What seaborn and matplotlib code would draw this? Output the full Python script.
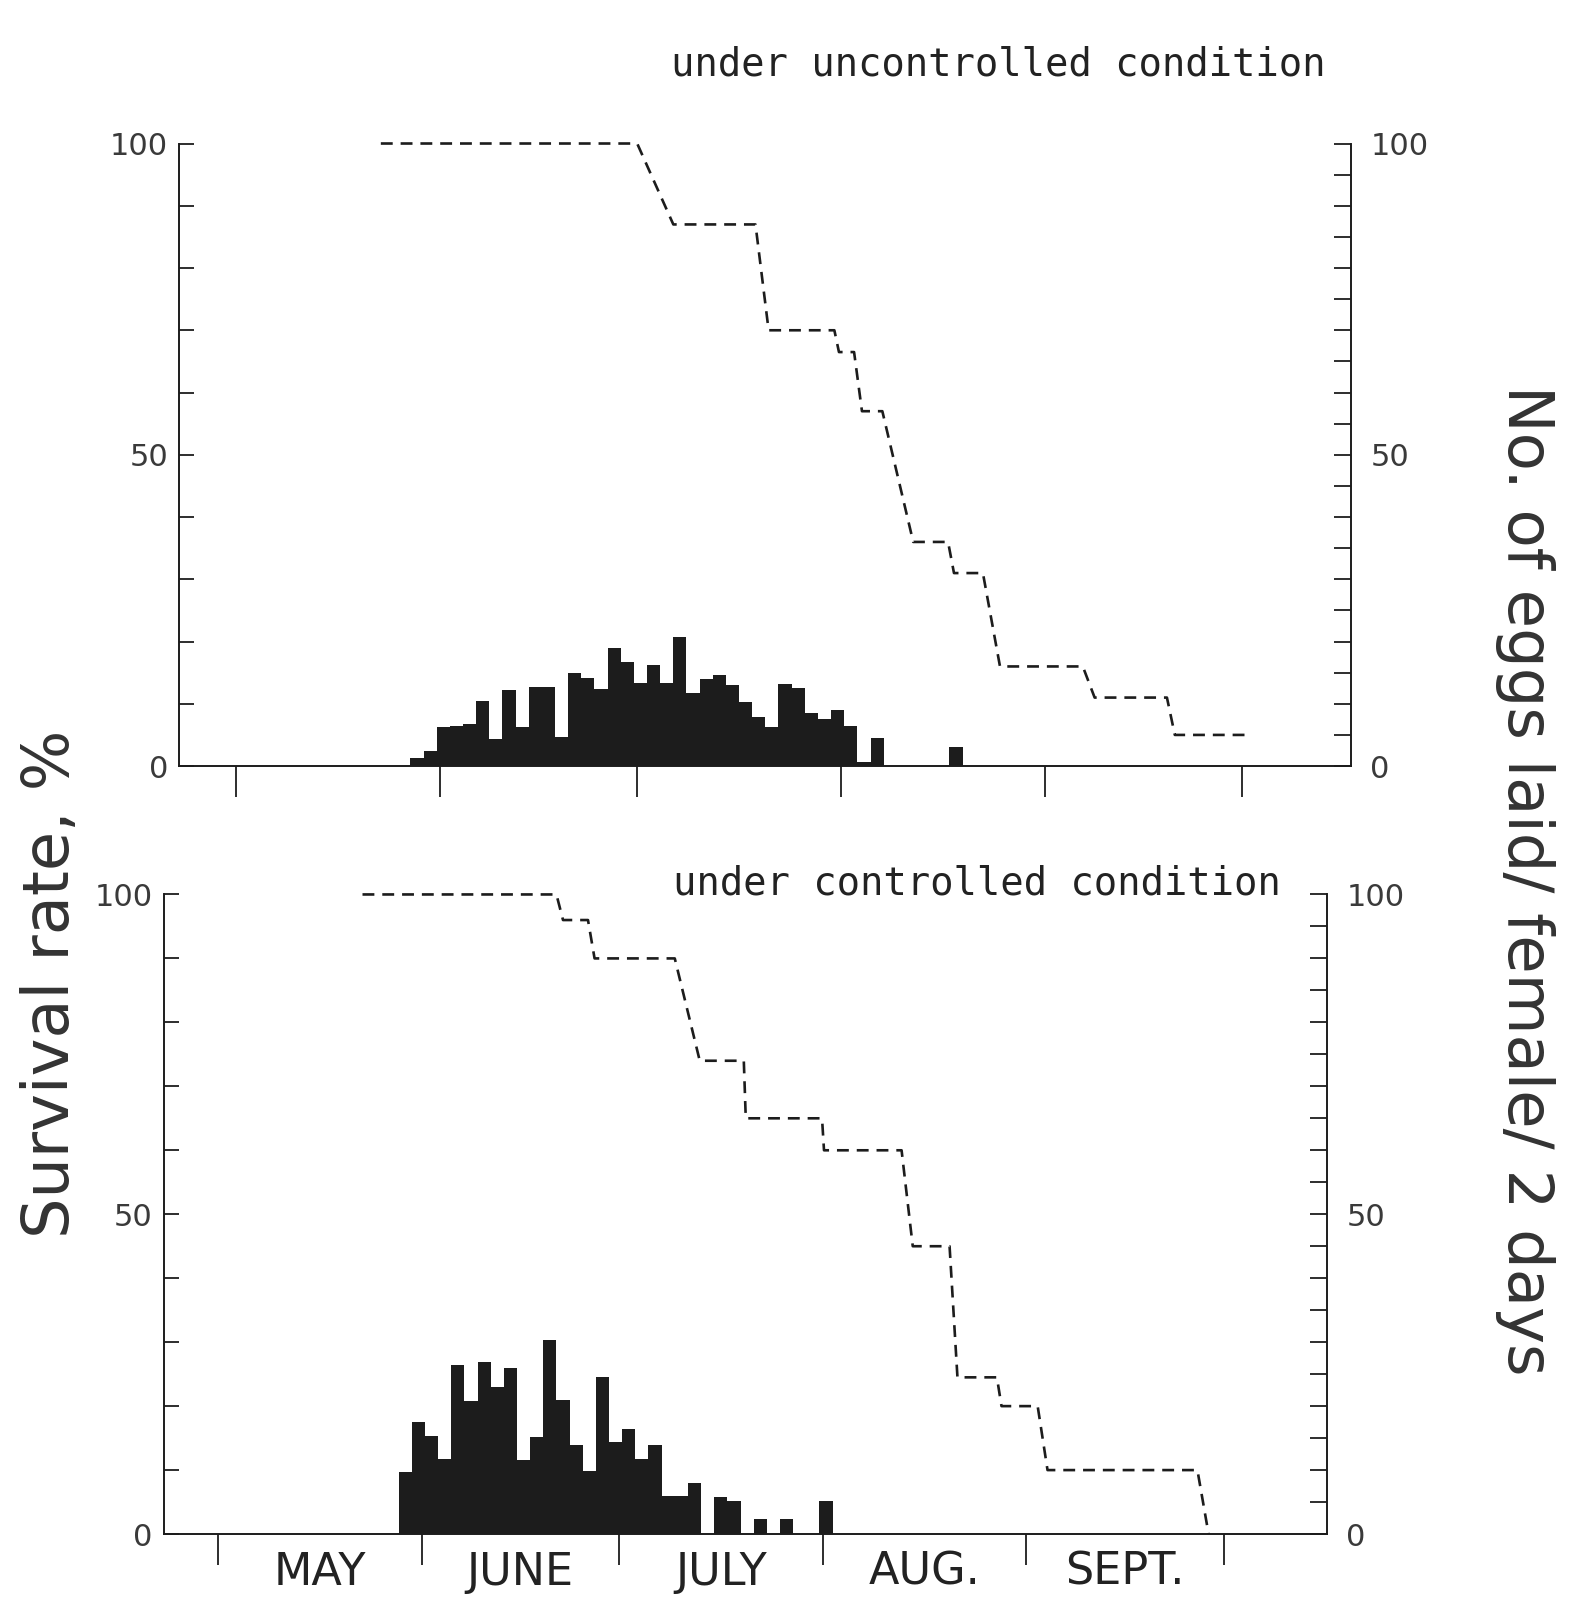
import numpy as np
import pandas as pd
import matplotlib
matplotlib.use("Agg")
import matplotlib.pyplot as plt
import seaborn as sns
from matplotlib.ticker import FixedLocator, MultipleLocator

sns.set_theme(style="ticks")
plt.rcParams['font.family'] = ['DejaVu Sans']

INK = "#1c1c1c"

# days counted from 1 May
month_starts = [0, 31, 61, 92, 123, 153]
month_mids = [15.5, 46, 76.5, 107.5, 138]
month_names = ["MAY", "JUNE", "JULY", "AUG.", "SEPT."]

# --- upper panel: uncontrolled condition ---
unc_surv_day = [22, 61, 66.5, 79, 81, 91, 91.7, 94, 95.2, 98.3, 103, 108.3,
                109.2, 113.6, 116.2, 128.8, 130.6, 141.6, 142.8, 154.2]
unc_surv_pct = [100, 100, 87, 87, 70, 70, 66.5, 66.5, 57, 57, 36, 36,
                31, 31, 16, 16, 11, 11, 5, 5]
# first day of each 2-day period with eggs
unc_egg_start = [26.5, 28.5, 30.5, 32.5, 34.5, 36.5, 38.5, 40.5, 42.5, 44.5,
                 46.5, 48.5, 50.5, 52.5, 54.5, 56.5, 58.5, 60.5, 62.5, 64.5,
                 66.5, 68.5, 70.5, 72.5, 74.5, 76.5, 78.5, 80.5, 82.5, 84.5,
                 86.5, 88.5, 90.5, 92.5, 94.5, 96.5, 108.5]
unc_eggs = [1.3, 2.4, 6.2, 6.4, 6.8, 10.5, 4.3, 12.2, 6.2, 12.7,
            12.7, 4.6, 14.9, 14.2, 12.4, 19.0, 16.7, 13.4, 16.2, 13.4,
            20.7, 11.8, 14.0, 14.6, 13.0, 10.3, 7.9, 6.3, 13.2, 12.5,
            8.5, 7.5, 9.0, 6.4, 0.7, 4.5, 3.0]

# --- lower panel: controlled condition ---
con_surv_day = [22, 51.5, 52.5, 56.3, 57.3, 69.5, 73.3, 80, 80.3, 91.9, 92.2,
                104, 105.7, 111.3, 112.5, 118.5, 119.2, 124.7, 126.2, 149, 150.7]
con_surv_pct = [100, 100, 96, 96, 90, 90, 74, 74, 65, 65, 60,
                60, 45, 45, 24.5, 24.5, 20, 20, 10, 10, 0]
con_egg_start = [27.5, 29.5, 31.5, 33.5, 35.5, 37.5, 39.5, 41.5, 43.5, 45.5,
                 47.5, 49.5, 51.5, 53.5, 55.5, 57.5, 59.5, 61.5, 63.5, 65.5,
                 67.5, 69.5, 71.5, 75.5, 77.5, 81.5, 85.5, 91.5]
con_eggs = [9.7, 17.5, 15.4, 11.8, 26.5, 20.8, 26.9, 23.0, 25.9, 11.5,
            15.2, 30.4, 20.9, 13.9, 9.9, 24.6, 14.4, 16.5, 11.7, 14.0,
            5.9, 5.9, 8.0, 5.8, 5.2, 2.3, 2.3, 5.1]

fig = plt.figure(figsize=(15.72, 16.07), dpi=100, facecolor="white")


def draw_panel(rect, xlim, surv_day, surv_pct, egg_start, eggs, show_months):
    ax = fig.add_axes(rect)
    ax2 = ax.twinx()

    egg_df = pd.DataFrame({"day": np.array(egg_start) + 1, "eggs": eggs})
    sns.histplot(data=egg_df, x="day", weights="eggs", binwidth=2,
                 binrange=(egg_start[0], egg_start[-1] + 2),
                 element="step", fill=True, color=INK, alpha=1, linewidth=0,
                 ax=ax2)

    surv_df = pd.DataFrame({"day": surv_day, "pct": surv_pct})
    sns.lineplot(data=surv_df, x="day", y="pct", ax=ax, color=INK, lw=1.9,
                 linestyle=(0, (4.5, 3)), estimator=None, sort=False,
                 clip_on=False)

    ax.set_xlim(*xlim)
    ax.set_ylim(0, 100)
    ax2.set_ylim(0, 100)
    for a in (ax, ax2):
        a.set_xlabel("")
        a.set_ylabel("")
        a.set_facecolor("none")
        for s in a.spines.values():
            s.set_color(INK)
            s.set_linewidth(1.4)
    ax.spines["top"].set_visible(False)
    ax.spines["right"].set_visible(False)
    for s in ("top", "left", "bottom"):
        ax2.spines[s].set_visible(False)

    ax.yaxis.set_major_locator(FixedLocator([0, 50, 100]))
    ax.yaxis.set_minor_locator(MultipleLocator(10))
    ax.tick_params(axis="y", which="both", direction="in", length=11,
                   width=1.3, color=INK, labelsize=22, labelcolor="#3a3a3a",
                   pad=8, left=True, right=False)
    ax2.yaxis.set_major_locator(FixedLocator([0, 50, 100]))
    ax2.yaxis.set_minor_locator(MultipleLocator(5))
    ax2.tick_params(axis="y", which="both", direction="in", length=12,
                    width=1.3, color=INK, labelsize=22, labelcolor="#3a3a3a",
                    pad=14, right=True, left=False)

    ax.set_xticks(month_starts)
    ax.set_xticklabels([])
    ax.tick_params(axis="x", which="major", direction="out", length=22,
                   width=1.3, color=INK)
    if show_months:
        ax.set_xticks(month_mids, minor=True)
        ax.set_xticklabels(month_names, minor=True)
        ax.tick_params(axis="x", which="minor", length=0, pad=12,
                       labelsize=32, labelcolor="#222")
    return ax


draw_panel([0.1139, 0.5233, 0.7455, 0.3874], (-8.7, 169.6),
           unc_surv_day, unc_surv_pct, unc_egg_start, unc_eggs, False)
draw_panel([0.1043, 0.0454, 0.7398, 0.3980], (-8.2, 168.7),
           con_surv_day, con_surv_pct, con_egg_start, con_eggs, True)

fig.text(0.4268, 0.960, "under uncontrolled condition",
         family="DejaVu Sans Mono", fontsize=28, color="#222",
         ha="left", va="center")
fig.text(0.428, 0.4505, "under controlled condition",
         family="DejaVu Sans Mono", fontsize=28, color="#222",
         ha="left", va="center")
fig.text(0.0324, 0.3877, "Survival rate, %", rotation=90, fontsize=46,
         color="#333", ha="center", va="center")
fig.text(0.970, 0.452, "No. of eggs laid/ female/ 2 days", rotation=270,
         fontsize=45, color="#333", ha="center", va="center")

fig.savefig("out.png", dpi=100, facecolor="white")
